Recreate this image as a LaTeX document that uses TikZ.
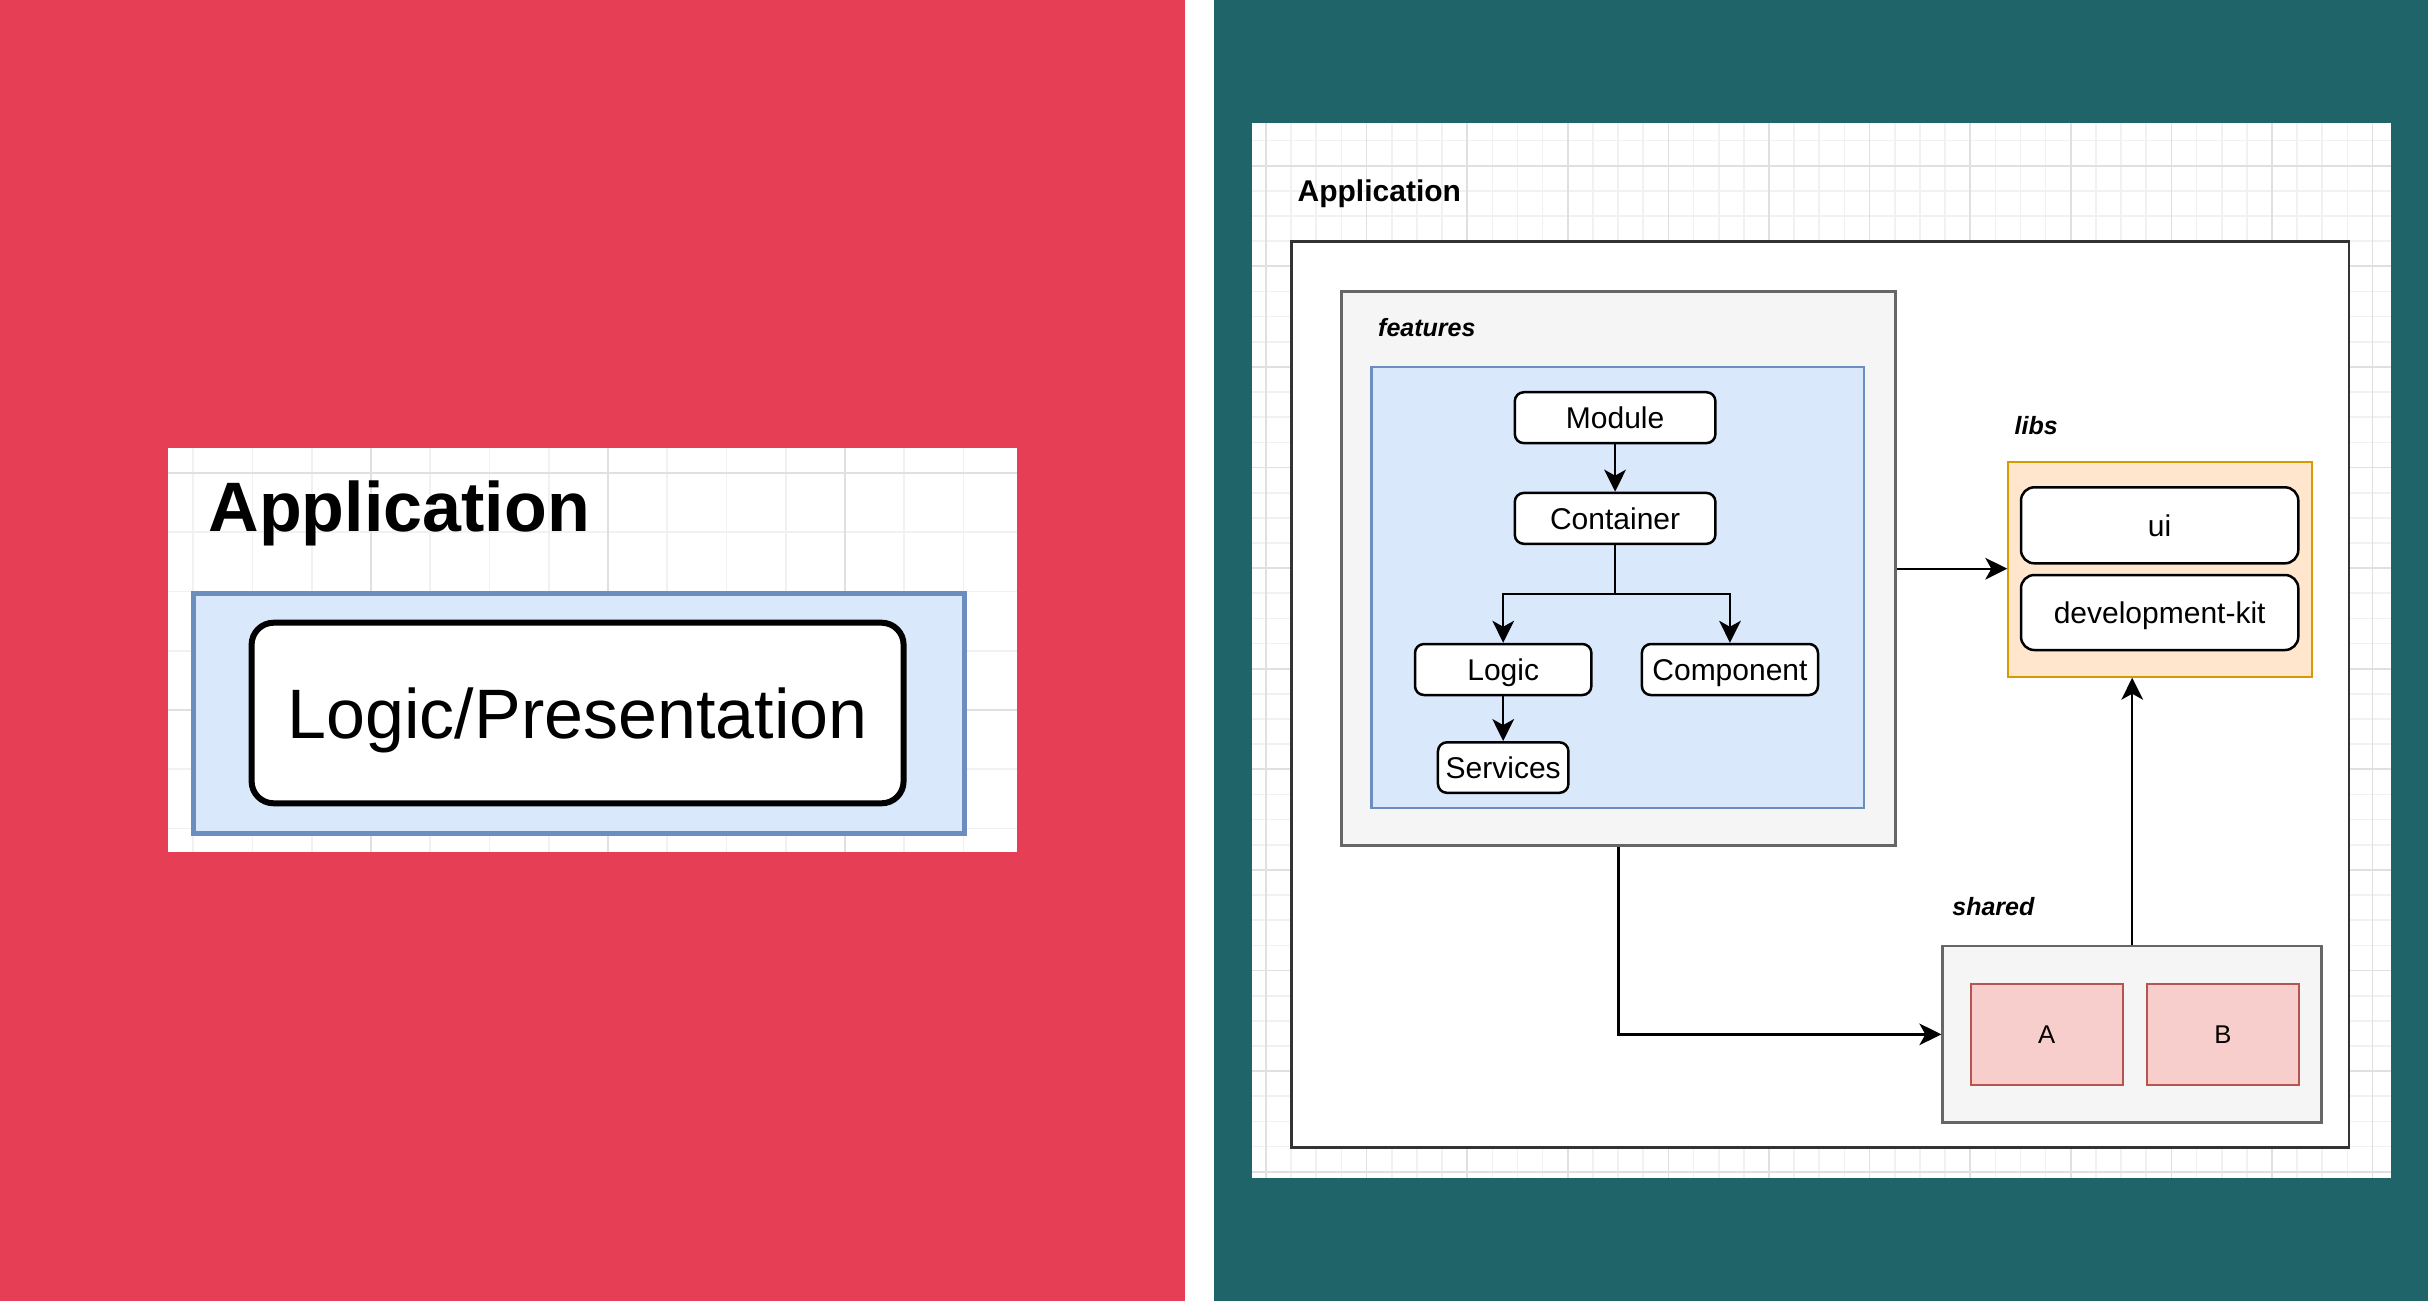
\documentclass[tikz,border=0pt]{standalone}
\usepackage{fontspec}
\setmainfont{Liberation Sans}
\usetikzlibrary{arrows.meta}
\definecolor{redbg}{HTML}{E63F55}
\definecolor{tealbg}{HTML}{1F6468}
\definecolor{bluefill}{HTML}{DAE8FC}
\definecolor{bluedraw}{HTML}{6C8EBF}
\definecolor{grayfill}{HTML}{F5F5F5}
\definecolor{graydraw}{HTML}{666666}
\definecolor{orangefill}{HTML}{FFE6CC}
\definecolor{orangedraw}{HTML}{D79B00}
\definecolor{pinkfill}{HTML}{F8CECC}
\definecolor{pinkdraw}{HTML}{B85450}
\definecolor{gridminor}{HTML}{F1F1F1}
\definecolor{gridmajor}{HTML}{E0E0E0}
\definecolor{outerdraw}{HTML}{333333}
\begin{document}
\begin{tikzpicture}[x=0.3pt,y=-0.3pt,
  box/.style={rectangle, inner sep=0pt, anchor=center},
  gminor/.style={draw=gridminor, line width=0.5pt},
  gmajor/.style={draw=gridmajor, line width=0.5pt},
  title/.style={anchor=base west, inner sep=0pt},
  grp/.style={box, draw=graydraw, fill=grayfill, line width=0.8pt},
  bluegrp/.style={box, draw=bluedraw, fill=bluefill, line width=0.75pt},
  comp/.style={box, draw=black, fill=white, line width=0.75pt, rounded corners=2.7pt,
    font=\fontsize{9pt}{10pt}\selectfont, text height=6.44pt, text depth=0pt},
  libitem/.style={comp, rounded corners=4pt},
  sharitem/.style={box, draw=pinkdraw, fill=pinkfill, line width=0.6pt,
    font=\fontsize{7.7pt}{9pt}\selectfont, text height=5.51pt, text depth=0pt},
  conn/.style={draw=black, line width=0.7pt, -{Stealth[length=6.6pt,width=6.5pt,inset=1.8pt]}}
]
\useasboundingbox (0,0) rectangle (2428,1301);
% backgrounds
\fill[redbg] (0,0) rectangle (1185,1301);
\fill[white] (1185,0) rectangle (1214,1301);
\fill[tealbg] (1214,0) rectangle (2428,1301);

% ---------- left panel ----------
\fill[white] (168,448) rectangle (1017,852);
\foreach \k in {0,...,13} {\draw[gminor] ({193.25+59.25*\k},448) -- ({193.25+59.25*\k},852);}
\foreach \k in {0,...,6} {\draw[gminor] (168,{473+59.25*\k}) -- (1017,{473+59.25*\k});}
\foreach \k in {3,7,11} {\draw[gmajor] ({193.25+59.25*\k},448) -- ({193.25+59.25*\k},852);}
\foreach \k in {0,4} {\draw[gmajor] (168,{473+59.25*\k}) -- (1017,{473+59.25*\k});}

\node[title, font=\fontsize{21pt}{24pt}\selectfont\bfseries] (lapp) at (208,531.5) {Application};
\node[box, draw=bluedraw, fill=bluefill, line width=1.5pt,
  minimum width=231.42pt, minimum height=72pt] (lblue) at (579,713) {};
\node[box, draw=black, fill=white, line width=1.8pt, rounded corners=6.6pt,
  minimum width=195.6pt, minimum height=54.18pt,
  font=\fontsize{21pt}{24pt}\selectfont, text height=15.04pt, text depth=-2.4pt]
  (lpres) at (577.6,713) {Logic/Presentation};

% ---------- right panel ----------
\fill[white] (1252,123) rectangle (2391,1178);
\foreach \k in {0,...,44} {\draw[gminor] ({1266+25.15*\k},123) -- ({1266+25.15*\k},1178);}
\foreach \k in {0,...,41} {\draw[gminor] (1252,{140.55+25.15*\k}) -- (2391,{140.55+25.15*\k});}
\foreach \k in {0,...,11} {\draw[gmajor] ({1266+100.6*\k},123) -- ({1266+100.6*\k},1178);}
\foreach \k in {0,...,10} {\draw[gmajor] (1252,{165.7+100.6*\k}) -- (2391,{165.7+100.6*\k});}

\node[title, font=\fontsize{9pt}{10pt}\selectfont\bfseries] (rapp) at (1297,201.5) {Application};
\node[box, draw=outerdraw, fill=white, line width=0.85pt,
  minimum width=317.25pt, minimum height=271.74pt] (outer) at (1820.25,694.6) {};

% features
\node[grp, minimum width=166.26pt, minimum height=166.2pt] (features) at (1618.6,568.7) {};
\node[title, font=\fontsize{7.5pt}{9pt}\selectfont\bfseries\itshape] (featlbl) at (1377.5,336.5) {features};
\node[bluegrp, minimum width=147.78pt, minimum height=132.27pt] (fblue) at (1617.6,587.45) {};
\node[comp, minimum width=60.18pt, minimum height=15.27pt] (module) at (1615.1,417.65) {Module};
\node[comp, minimum width=60.18pt, minimum height=15.27pt] (container) at (1615.1,518.35) {Container};
\node[comp, minimum width=52.92pt, minimum height=15.3pt] (logic) at (1503.2,669.5) {Logic};
\node[comp, minimum width=52.83pt, minimum height=15.3pt] (component) at (1729.95,669.5) {Component};
\node[comp, minimum width=39.15pt, minimum height=15.15pt] (services) at (1503.2,767.55) {Services};
\coordinate (split) at (1615.1,594);

% libs
\node[title, font=\fontsize{7.5pt}{9pt}\selectfont\bfseries\itshape] (libslbl) at (2014,434) {libs};
\node[box, draw=orangedraw, fill=orangefill, line width=0.6pt,
  minimum width=91.02pt, minimum height=64.5pt] (libs) at (2160,569.2) {};
\node[libitem, minimum width=83.19pt, minimum height=22.8pt] (ui) at (2159.65,525.3) {ui};
\node[libitem, minimum width=83.19pt, minimum height=22.5pt] (devkit) at (2159.65,612.5) {development-kit};

% shared
\node[title, font=\fontsize{7.5pt}{9pt}\selectfont\bfseries\itshape] (sharedlbl) at (1951.7,915) {shared};
\node[grp, minimum width=113.7pt, minimum height=53.01pt] (shared) at (2132.2,1034.35) {};
\node[sharitem, minimum width=45.6pt, minimum height=30.3pt] (a) at (2046.7,1034.5) {A};
\node[sharitem, minimum width=45.69pt, minimum height=30.3pt] (b) at (2222.85,1034.5) {B};

% connectors
\draw[conn] (module.south) -- (container.north);
\draw[conn] (container.south) -- (split) -| (logic.north);
\draw[conn] (split) -| (component.north);
\draw[conn] (logic.south) -- (services.north);
\draw[conn] (features.east) -- (features.east -| libs.west);
\draw[conn] (features.south) |- (shared.west);
\draw[conn] (shared.north) -- (shared.north |- libs.south);
\end{tikzpicture}
\end{document}
